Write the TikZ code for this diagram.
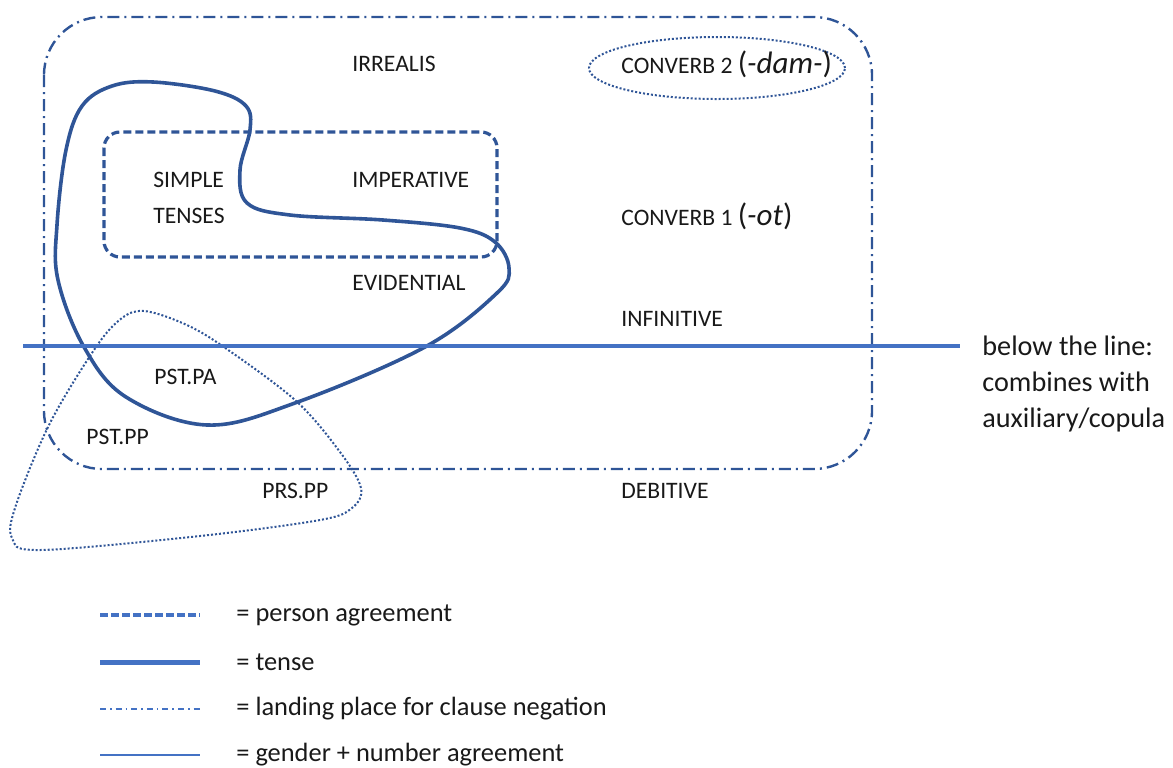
\documentclass[tikz,border=0pt]{standalone}
\usepackage{fontspec}
\setmainfont{Carlito}
\usetikzlibrary{shapes.geometric}

\definecolor{darkblue}{RGB}{47,85,151}
\definecolor{lightblue}{RGB}{68,114,196}
\definecolor{ink}{RGB}{25,25,25}

\tikzset{
  lbl/.style={anchor=west,inner sep=0pt,text=ink,font=\fontsize{11.8}{13}\selectfont},
  note/.style={anchor=west,inner sep=0pt,text=ink,font=\fontsize{13.2}{17.5}\selectfont},
  negation/.style={darkblue,line width=1.2pt,dash pattern=on 6pt off 2.5pt on 1pt off 2.5pt},
  person/.style={darkblue,line width=1.6pt,dash pattern=on 4pt off 2pt},
  tense/.style={darkblue,line width=1.8pt},
  gender/.style={lightblue,line width=1.6pt},
  dotline/.style={darkblue,line width=1pt,dash pattern=on 1pt off 1pt}
}

\begin{document}
\begin{tikzpicture}[x=0.5pt,y=-0.5pt]
	\useasboundingbox (0,0) rectangle (1173,767);
	
	% Clause negation box
	\draw[negation,rounded corners=29pt] (44,17) rectangle (872,469);
	
	% Person agreement box
	\draw[person,rounded corners=8pt] (104,132) rectangle (497,257);
	
	% Converb 2 ellipse
	\node[draw,dotline,ellipse,minimum width=128pt,minimum height=31pt] (cvb2) at (717,68) {};
	
	% Tense curve
	\draw[tense] plot[smooth cycle,tension=0.6] coordinates {
		(153,82) (215,91) (246,106) (250,130) (240,170) (247,203) (290,215)
		(383,220) (460,228) (495,242) (509,268) (497,293) (425,347) (295,403)
		(207,425) (126,397) (84,347) (58,280) (57,225) (66,150) (82,106) (112,86)};
	
	% Negation triangle
	\draw[dotline] plot[smooth cycle,tension=0.55] coordinates {
		(144,311) (180,322) (218,343) (295,400) (340,452) (361,488) (352,508)
		(320,520) (200,536) (40,550) (12,538) (16,505) (50,423) (96,347) (122,318)};
	
	% Gender/number line
	\coordinate (gl) at (23,346);
	\coordinate (gr) at (960,346);
	\draw[gender] (gl) -- (gr);
	
	% Labels
	\node[lbl] (irr) at (352,64) {IRREALIS};
	\node[lbl] (cv2) at (621,64) {CONVERB 2 {\fontsize{15.5}{15.5}\selectfont(\textit{-dam-})}};
	\node[lbl] (simple) at (153,180) {SIMPLE};
	\node[lbl] (tenses) at (153,216) {TENSES};
	\node[lbl] (imp) at (352,180) {IMPERATIVE};
	\node[lbl] (cv1) at (621,216) {CONVERB 1 {\fontsize{15.5}{15.5}\selectfont(\textit{-ot})}};
	\node[lbl] (evid) at (352,283) {EVIDENTIAL};
	\node[lbl] (inf) at (621,319) {INFINITIVE};
	\node[lbl] (pstpa) at (154,377) {PST.PA};
	\node[lbl] (pstpp) at (86,437) {PST.PP};
	\node[lbl] (prspp) at (262,491) {PRS.PP};
	\node[lbl] (deb) at (621,491) {DEBITIVE};
	
	\node[note,anchor=north west,align=left,font=\fontsize{14.1}{17.8}\selectfont] (below) at (982,336)
		{below the line:\\combines with\\auxiliary/copula};
	
	% Legend
	\node[note] (lg1) at (236,615) {= person agreement};
	\node[note] (lg2) at (236,662) {= tense};
	\node[note] (lg3) at (236,709) {= landing place for clause negation};
	\node[note] (lg4) at (236,755) {= gender + number agreement};
	\draw[lightblue,line width=2.2pt,dash pattern=on 4pt off 1.5pt] (100,615) -- (200,615);
	\draw[lightblue,line width=2.5pt] (100,662) -- (200,662);
	\draw[lightblue,line width=0.9pt,dash pattern=on 3pt off 2pt on 0.8pt off 2pt] (100,709) -- (200,709);
	\draw[lightblue,line width=1.1pt] (100,755) -- (200,755);
	
\end{tikzpicture}
\end{document}
